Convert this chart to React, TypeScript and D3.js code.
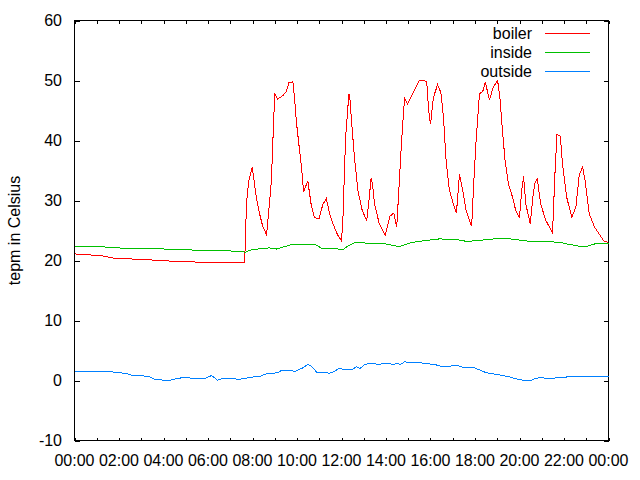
import React from "react";
import * as d3 from "d3";

const boilerTimes = ["00:00","01:13","01:44","02:51","03:55","04:44","06:05","07:39","07:41","07:44","07:50","07:59","08:03","08:10","08:19","08:28","08:38","08:44","08:51","08:55","09:00","09:08","09:22","09:31","09:38","09:49","09:54","09:58","10:05","10:12","10:18","10:29","10:38","10:47","10:59","11:10","11:19","11:28","11:37","11:50","12:00","12:04","12:11","12:20","12:23","12:29","12:35","12:44","12:56","13:08","13:14","13:20","13:24","13:29","13:42","13:58","14:11","14:21","14:29","14:33","14:41","14:50","14:58","15:12","15:30","15:43","15:50","15:55","16:00","16:08","16:19","16:28","16:35","16:42","16:51","17:04","17:10","17:14","17:18","17:27","17:36","17:51","17:56","18:03","18:12","18:21","18:28","18:39","18:49","19:01","19:07","19:14","19:21","19:30","19:41","19:50","20:00","20:06","20:11","20:17","20:29","20:37","20:42","20:48","20:57","21:11","21:29","21:36","21:41","21:50","21:56","22:07","22:21","22:32","22:41","22:50","22:57","23:08","23:22","23:35","23:48","24:00"];
const boilerValues = [21.1,20.8,20.4,20.2,20.0,19.8,19.7,19.7,24.2,29.7,33.3,35.5,33.9,30.6,27.8,25.6,24.3,28.3,33.3,40.0,47.9,46.9,47.5,48.1,49.6,49.8,46.7,43.3,39.4,35.6,31.4,33.3,29.4,27.2,26.9,29.4,30.3,27.8,26.1,24.2,23.3,27.2,40.5,47.8,46.7,41.7,37.2,31.7,28.3,26.7,30.0,33.8,32.5,29.4,26.1,24.2,27.4,27.9,25.6,30.0,38.9,47.1,46.1,47.8,50.0,50.0,49.7,45.0,42.7,47.2,49.3,48.0,43.9,36.7,31.7,28.9,28.0,31.1,34.4,31.7,28.3,25.7,32.2,40.0,47.8,48.2,49.7,46.7,48.9,50.0,47.2,41.7,36.7,32.8,30.6,28.3,27.2,31.7,34.0,29.4,26.1,31.1,33.0,33.6,29.4,26.7,24.6,35.0,41.0,40.7,36.1,30.6,27.2,28.9,34.2,35.6,33.3,27.8,25.6,24.4,23.2,23.0];

const insideTimes = ["00:00","01:13","01:44","03:23","05:38","06:59","07:41","07:57","08:46","09:04","09:42","10:09","10:49","11:06","11:56","12:04","12:17","12:38","13:07","14:00","14:36","15:03","15:30","16:24","17:09","17:36","18:11","18:29","19:18","19:50","20:25","21:51","22:04","22:40","22:58","23:25","24:00"];
const insideValues = [22.3,22.3,22.1,22.0,21.7,21.6,21.4,21.8,22.1,21.9,22.6,22.7,22.7,22.05,21.9,21.8,22.4,23.05,22.9,22.75,22.3,22.9,23.2,23.6,23.5,23.2,23.3,23.5,23.7,23.5,23.2,23.05,22.8,22.4,22.3,22.8,22.8];

const outsideTimes = ["00:00","01:41","01:45","02:19","02:38","03:03","03:22","03:36","04:00","04:19","04:29","04:48","05:08","05:22","05:46","05:56","06:10","06:25","06:39","07:03","07:27","07:42","07:56","08:20","08:39","09:08","09:18","09:42","09:56","10:16","10:30","10:40","10:54","11:13","11:28","11:37","11:52","12:11","12:30","12:40","12:50","13:04","13:19","13:38","14:07","14:16","14:31","14:40","14:50","15:09","15:33","15:53","16:12","16:26","16:55","17:00","17:14","17:29","17:58","18:12","18:31","18:50","19:15","19:29","19:44","19:58","20:17","20:32","20:41","21:01","21:10","21:34","21:39","22:03","22:08","23:52","24:00"];
const outsideValues = [1.5,1.5,1.39,1.17,0.78,0.78,0.61,0.22,0.06,0.06,0.22,0.44,0.44,0.33,0.33,0.44,0.83,0.06,0.33,0.28,0.22,0.39,0.56,0.67,1.17,1.28,1.67,1.61,1.56,2.11,2.72,2.28,1.33,1.33,1.22,1.39,1.94,1.89,1.83,2.33,2.0,2.72,2.83,2.72,2.83,2.72,2.78,2.72,3.11,3.0,2.94,2.78,2.67,2.39,2.39,2.56,2.5,2.17,2.11,1.78,1.28,1.11,0.83,0.67,0.39,0.17,0.0,0.06,0.33,0.5,0.33,0.39,0.5,0.5,0.61,0.61,0.61];

const seriesNames = ["boiler", "inside", "outside"];
const seriesColors = ["#ff0000", "#00c000", "#0080ff"];
const yTicks = [-10, 0, 10, 20, 30, 40, 50, 60];
const xLabelHours = [0, 2, 4, 6, 8, 10, 12, 14, 16, 18, 20, 22, 24];
const yLabel = "tepm in Celsius";

const toHours = (s: string) => {
  const [h, m] = s.split(":").map(Number);
  return h + m / 60;
};
const fmt = (h: number) => `${String(h % 24 === 0 && h > 0 ? 0 : h).padStart(2, "0")}:00`;

export default function App() {
  const W = 640, H = 480;
  const left = 74.5, right = 608.5, top = 20.5, bottom = 440.5;
  const x = d3.scaleLinear().domain([0, 24]).range([left, right]);
  const y = d3.scaleLinear().domain([-10, 60]).range([bottom, top]);
  const font = "'Liberation Sans', Arial, sans-serif";

  const series = [
    boilerTimes.map((t, i) => [toHours(t), boilerValues[i]] as [number, number]),
    insideTimes.map((t, i) => [toHours(t), insideValues[i]] as [number, number]),
    outsideTimes.map((t, i) => [toHours(t), outsideValues[i]] as [number, number]),
  ];
  const line = d3.line<[number, number]>().x(d => x(d[0])).y(d => y(d[1]));
  const hourTicks = d3.range(0, 25);

  return (
    <svg width={W} height={H} style={{ position: "absolute", left: 0, top: 0, background: "#fff" }} fontFamily={font}>
      <rect x={0} y={0} width={W} height={H} fill="#fff" />
      <g stroke="#000" strokeWidth={1} shapeRendering="crispEdges">
        {yTicks.map(v => (
          <g key={"y" + v}>
            <line x1={left} x2={left + 5} y1={Math.round(y(v)) + 0.5} y2={Math.round(y(v)) + 0.5} />
            <line x1={right - 5} x2={right} y1={Math.round(y(v)) + 0.5} y2={Math.round(y(v)) + 0.5} />
          </g>
        ))}
        {hourTicks.map(h => (
          <g key={"x" + h}>
            <line x1={Math.round(x(h)) + 0.5} x2={Math.round(x(h)) + 0.5} y1={bottom} y2={bottom - 3} />
            <line x1={Math.round(x(h)) + 0.5} x2={Math.round(x(h)) + 0.5} y1={top} y2={top + 3} />
          </g>
        ))}
        <rect x={left} y={top} width={right - left} height={bottom - top} fill="none" />
      </g>
      {yTicks.map(v => (
        <text key={"yl" + v} x={62} y={y(v) + 5.5} textAnchor="end" fontSize={16} fill="#000">{v}</text>
      ))}
      {xLabelHours.map(h => (
        <text key={"xl" + h} x={x(h)} y={466} textAnchor="middle" fontSize={16} fill="#000">{fmt(h)}</text>
      ))}
      <text transform={`translate(20,${(top + bottom) / 2}) rotate(-90)`} textAnchor="middle" fontSize={16} fill="#000">{yLabel}</text>
      {series.map((s, i) => (
        <path key={"s" + i} d={line(s) || ""} fill="none" stroke={seriesColors[i]} strokeWidth={1} shapeRendering="crispEdges" />
      ))}
      {seriesNames.map((n, i) => (
        <g key={"lg" + n}>
          <text x={532} y={38.5 + i * 19} textAnchor="end" fontSize={16} fill="#000">{n}</text>
          <line x1={545} x2={590} y1={33.5 + i * 19} y2={33.5 + i * 19} stroke={seriesColors[i]} strokeWidth={1} shapeRendering="crispEdges" />
        </g>
      ))}
    </svg>
  );
}
